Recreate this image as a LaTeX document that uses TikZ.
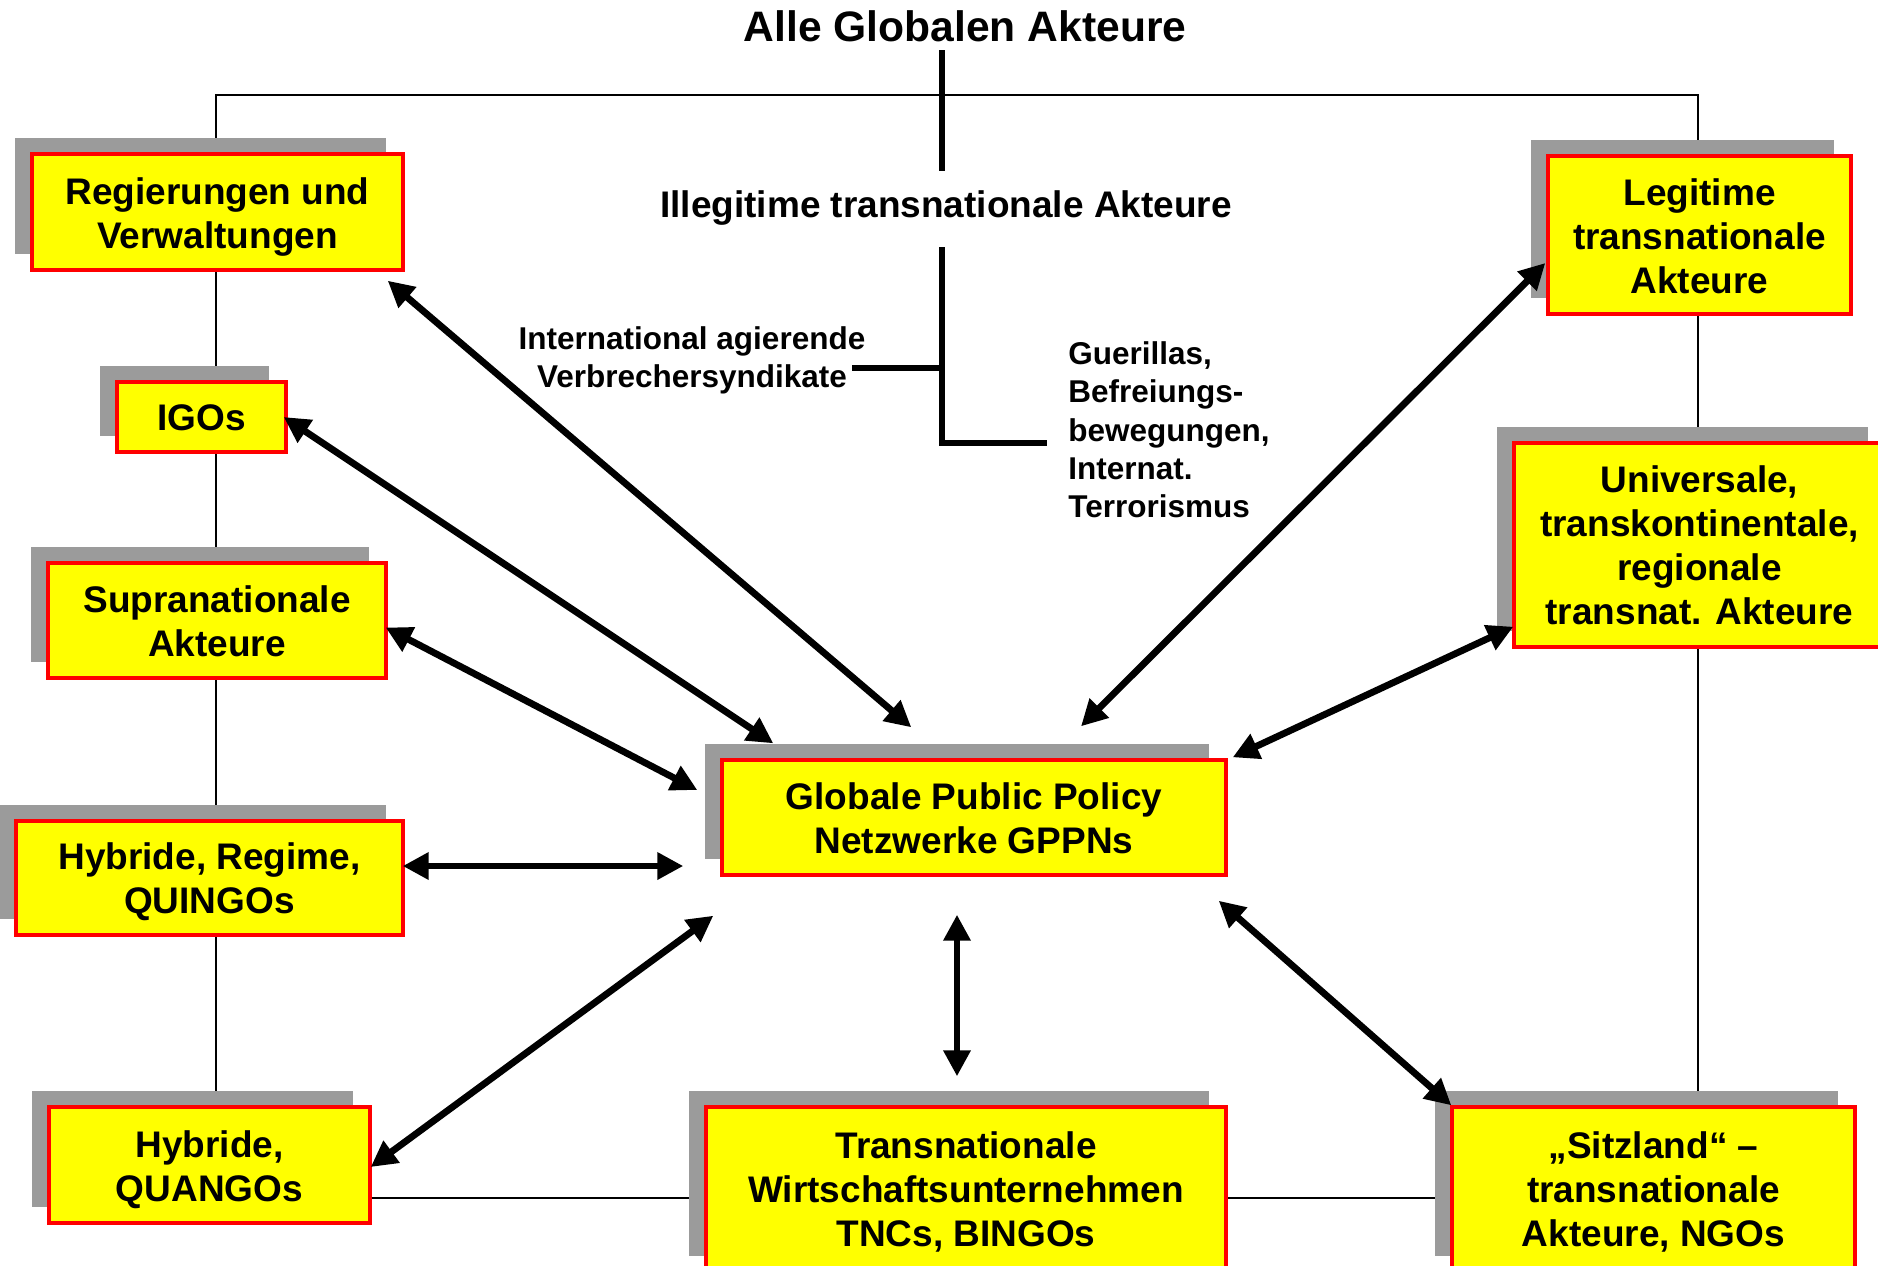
\documentclass[tikz,border=0pt]{standalone}
\usepackage{fontspec}
\setmainfont{Liberation Sans}
\usetikzlibrary{arrows.meta,shadows}
\definecolor{boxyellow}{RGB}{255,255,0}
\definecolor{boxred}{RGB}{255,0,0}
\definecolor{shadowgray}{RGB}{155,155,155}
\begin{document}
\begin{tikzpicture}[x=0.5pt,y=-0.5pt,
  actor/.style={draw=boxred, line width=1.7pt, fill=boxyellow, inner sep=0pt,
     drop shadow={shadow xshift=-8.5pt, shadow yshift=8pt, fill=shadowgray, opacity=1}},
  tx/.style={inner sep=0pt, align=center, font=\fontsize{18.5}{22}\selectfont\bfseries},
  lbl/.style={inner sep=0pt, font=\fontsize{15.75}{19.1}\selectfont\bfseries},
  biarrow/.style={line width=3.4pt, {Triangle[length=13pt,width=13pt]}-{Triangle[length=13pt,width=13pt]}},
  tree/.style={line width=3.25pt},
  frameline/.style={line width=1pt}]
\useasboundingbox (0,0) rectangle (1878,1265);
\fill[white] (0,0) rectangle (1878,1265);
\clip (0,0) rectangle (1878,1265);

% frame
\draw[frameline] (216,95) rectangle (1698,1198);

% title and tree
\node[inner sep=0pt, anchor=base, font=\fontsize{21.3}{25}\selectfont\bfseries] (title) at (965,41.5) {Alle Globalen Akteure};
\node[inner sep=0pt, anchor=base, font=\fontsize{18.5}{22}\selectfont\bfseries] (illeg) at (946,217) {Illegitime transnationale Akteure};
\coordinate (t1) at (942,50);
\coordinate (t2) at (942,171);
\coordinate (t3) at (942,247);
\coordinate (t4) at (942,443);
\coordinate (t5) at (852,368);
\coordinate (t6) at (942,368);
\coordinate (t7) at (1047,443);
\draw[tree] (t1) -- (t2);
\draw[tree] (t5) -- (t6);
\draw[tree] (t3) -- (t4) -- (t7);
\node[lbl, align=center] (crime) at (692,360.5) {International agierende\\Verbrechersyndikate};
\node[lbl, align=left, anchor=west] (guer) at (1068,429.8) {Guerillas,\\Befreiungs-\\bewegungen,\\Internat.\\Terrorismus};

% actor boxes
\node[actor, minimum width=185.5pt, minimum height=58pt,
  label={[tx,yshift=-2.5pt]center:{Regierungen und\\Verwaltungen}}] (R) at (217.5,212) {};
\node[actor, minimum width=84.5pt, minimum height=35pt,
  label={[tx,yshift=-0.5pt]center:{IGOs}}] (I) at (201.5,417) {};
\node[actor, minimum width=169pt, minimum height=57.5pt,
  label={[tx,yshift=-0.3pt]center:{Supranationale\\Akteure}}] (S) at (217,620.5) {};
\node[actor, minimum width=193.5pt, minimum height=57pt,
  label={[tx,yshift=-2pt]center:{Hybride, Regime,\\QUINGOs}}] (HR) at (209.5,878) {};
\node[actor, minimum width=160.5pt, minimum height=58pt,
  label={[tx,yshift=-2.5pt]center:{Hybride,\\QUANGOs}}] (HQ) at (209.5,1165) {};
\node[actor, minimum width=252pt, minimum height=57.5pt,
  label={[tx,yshift=-0.5pt]center:{Globale Public Policy\\Netzwerke GPPNs}}] (G) at (974,817.5) {};
\node[actor, minimum width=260pt, minimum height=82.5pt,
  label={[tx,yshift=-1pt]center:{Transnationale\\Wirtschaftsunternehmen\\TNCs, BINGOs}}] (T) at (966,1189.5) {};
\node[actor, minimum width=201.5pt, minimum height=82.5pt,
  label={[tx,yshift=-1pt]center:{„Sitzland“ –\\transnationale\\Akteure, NGOs}}] (Sz) at (1653.5,1189.5) {};
\node[actor, minimum width=151.5pt, minimum height=79pt,
  label={[tx,yshift=-0.5pt]center:{Legitime\\transnationale\\Akteure}}] (L) at (1699.5,235) {};
\node[actor, minimum width=185.5pt, minimum height=102pt,
  label={[tx,yshift=-0.3pt]center:{Universale,\\transkontinentale,\\regionale\\transnat. Akteure}}] (U) at (1699.5,545) {};

% arrows
\draw[biarrow] ([shift={(-17,9)}]R.south east) -- ([shift={(191,-31)}]G.north west);
\draw[biarrow] ([shift={(-4,0)}]I.east) -- ([shift={(53,-15)}]G.north west);
\draw[biarrow] ([shift={(-2,7)}]S.east) -- ([shift={(-23,-27.5)}]G.west);
\draw[biarrow] ([shift={(-2,-12)}]HR.east) -- ([shift={(-37,48.5)}]G.west);
\draw[biarrow] ([shift={(-1,2)}]HQ.east) -- ([shift={(-7,39)}]G.south west);
\draw[biarrow] ([shift={(-17,38)}]G.south) -- ([shift={(-9,-29)}]T.north);
\draw[biarrow] ([shift={(-9,24)}]G.south east) -- ([shift={(1,0)}]Sz.north west);
\draw[biarrow] ([shift={(5,-1)}]G.north east) -- ([shift={(1,-22)}]U.south west);
\draw[biarrow] ([shift={(107,-32)}]G.north) -- ([shift={(-1,28)}]L.west);
\end{tikzpicture}
\end{document}
